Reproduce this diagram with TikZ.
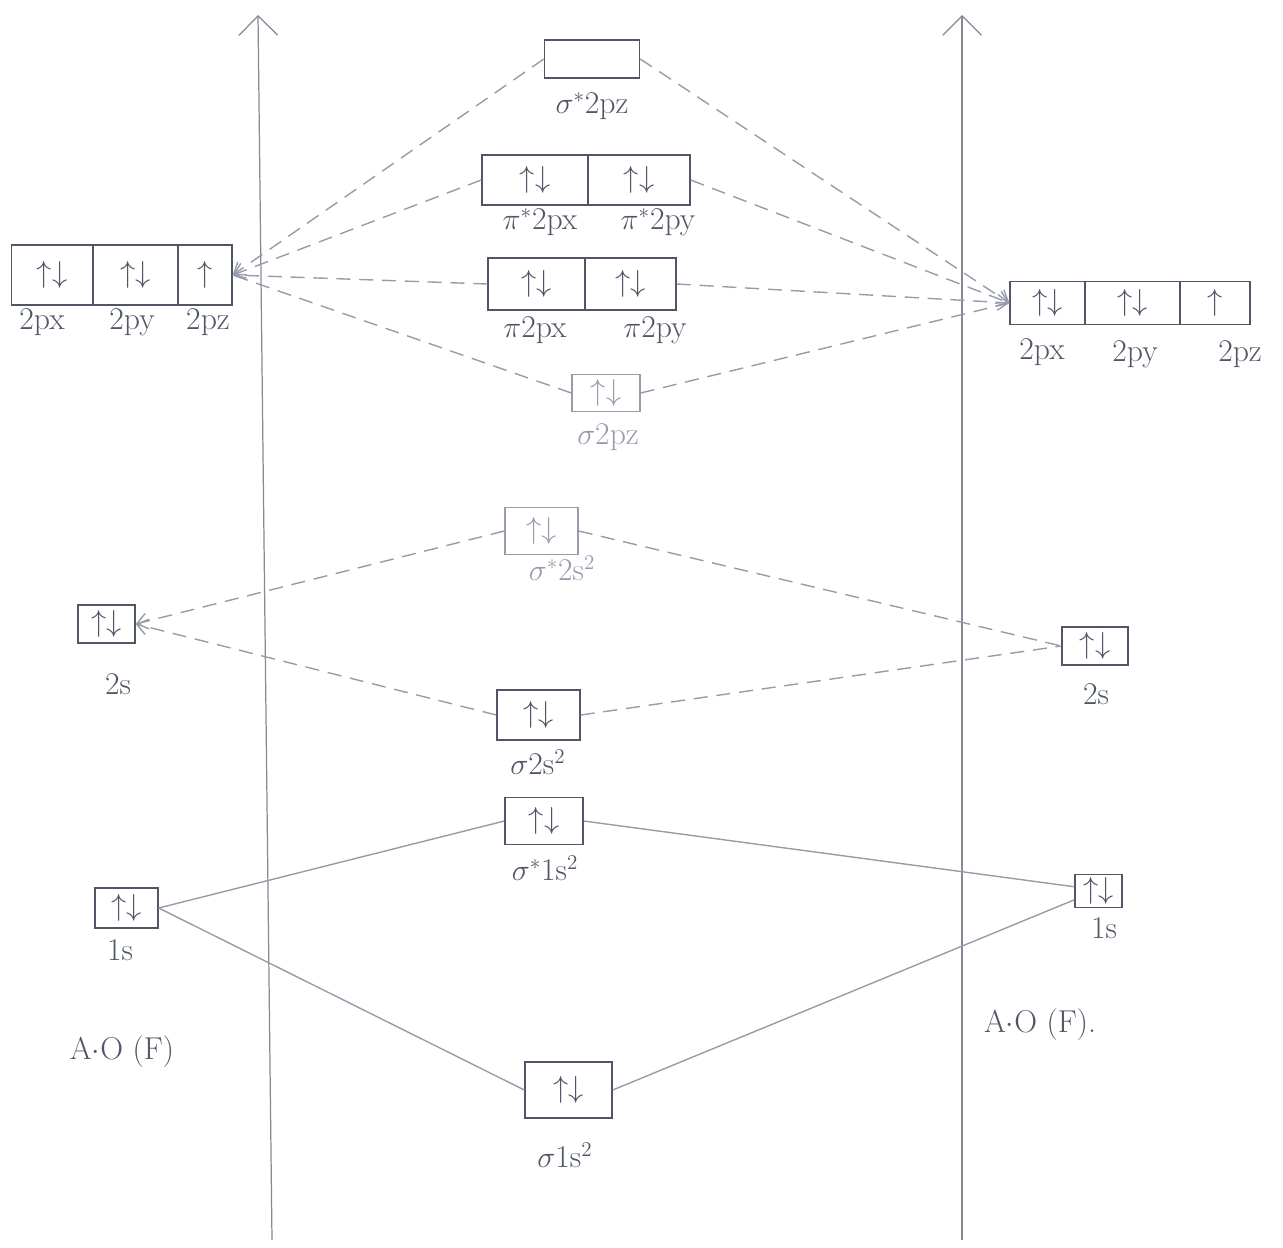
\documentclass[tikz,border=0pt]{standalone}
\usetikzlibrary{arrows.meta}
\definecolor{pencil}{RGB}{80,86,102}
\definecolor{faint}{RGB}{150,156,170}
\begin{document}
\begin{tikzpicture}[x=0.02cm,y=-0.02cm,
  cell/.style 2 args={draw=pencil, line width=0.8pt, minimum width=#1*0.02cm, minimum height=#2*0.02cm, inner sep=0pt, text=pencil, font=\LARGE},
  lab/.style={text=pencil, font=\fontsize{18}{21}\selectfont},
  link/.style={draw=faint, line width=0.8pt, dash pattern=on 8pt off 5pt},
  bond/.style={draw=faint, line width=0.8pt},
  >={Straight Barb[length=6pt,width=9pt]}]
\useasboundingbox (0,0) rectangle (1283,1247);
% energy axes
\coordinate (lbot) at (272,1240);
\coordinate (ltop) at (258,15);
\coordinate (rbot) at (962,1240);
\coordinate (rtop) at (962,15);
\draw[pencil!70, line width=0.7pt, -{Straight Barb[length=11pt,width=22pt]}] (lbot) -- (ltop);
\draw[pencil!70, line width=0.7pt, -{Straight Barb[length=11pt,width=22pt]}] (rbot) -- (rtop);
% atomic orbitals, left F
\node[cell={81}{60}] (lpx) at (52,275) {$\uparrow\downarrow$};
\node[cell={85}{60}] (lpy) at (135.5,275) {$\uparrow\downarrow$};
\node[cell={54}{60}] (lpz) at (205,275) {$\uparrow$};
\node[lab] (lpxl) at (42,322) {2px};
\node[lab] (lpyl) at (132,322) {2py};
\node[lab] (lpzl) at (208,322) {2pz};
\node[cell={57}{38}] (l2s) at (106.5,624) {$\uparrow\downarrow$};
\node[lab] (l2sl) at (118,684) {2s};
\node[cell={63}{40}] (l1s) at (126.5,908) {$\uparrow\downarrow$};
\node[lab] (l1sl) at (120,950) {1s};
\node[lab] (lao) at (122,1052) {A$\cdot$O (F)};
% atomic orbitals, right F
\node[cell={75}{43}] (rpx) at (1047.5,303) {$\uparrow\downarrow$};
\node[cell={95}{43}] (rpy) at (1132.5,303) {$\uparrow\downarrow$};
\node[cell={70}{43}] (rpz) at (1215,303) {$\uparrow$};
\node[lab] (rpxl) at (1042,352) {2px};
\node[lab] (rpyl) at (1135,354) {2py};
\node[lab] (rpzl) at (1240,354) {2pz};
\node[cell={66}{38}] (r2s) at (1095,646) {$\uparrow\downarrow$};
\node[lab] (r2sl) at (1096,694) {2s};
\node[cell={47}{33}] (r1s) at (1098.5,891) {$\uparrow\downarrow$};
\node[lab] (r1sl) at (1104,928) {1s};
\node[lab] (rao) at (1040,1025) {A$\cdot$O (F).};
% molecular orbitals
\node[cell={95}{38}] (sigs2pz) at (592,59) {};
\node[lab] (sigs2pzl) at (592,106) {$\sigma^{*}$2pz};
\node[cell={106}{50}] (pisx) at (535,180) {$\uparrow\downarrow$};
\node[cell={102}{50}] (pisy) at (639,180) {$\uparrow\downarrow$};
\node[lab] (pisxl) at (540,222) {$\pi^{*}$2px};
\node[lab] (pisyl) at (658,222) {$\pi^{*}$2py};
\node[cell={97}{52}] (pix) at (536.5,284) {$\uparrow\downarrow$};
\node[cell={91}{52}] (piy) at (630.5,284) {$\uparrow\downarrow$};
\node[lab] (pixl) at (535,330) {$\pi$2px};
\node[lab] (piyl) at (655,330) {$\pi$2py};
\node[cell={68}{37}, draw=faint, text=faint] (sig2pz) at (606,393) {$\uparrow\downarrow$};
\node[lab, text=faint] (sig2pzl) at (608,437) {$\sigma$2pz};
\node[cell={73}{47}, draw=faint, text=faint] (sigs2s) at (541.5,531) {$\uparrow\downarrow$};
\node[lab, text=faint] (sigs2sl) at (562,568) {$\sigma^{*}$2s$^2$};
\node[cell={83}{50}] (sig2s) at (538.5,715) {$\uparrow\downarrow$};
\node[lab] (sig2sl) at (538,762) {$\sigma$2s$^2$};
\node[cell={78}{47}] (sigs1s) at (544,821) {$\uparrow\downarrow$};
\node[lab] (sigs1sl) at (545,868) {$\sigma^{*}$1s$^2$};
\node[cell={87}{56}] (sig1s) at (568.5,1090) {$\uparrow\downarrow$};
\node[lab] (sig1sl) at (565,1155) {$\sigma$1s$^2$};
% 2p combinations
\draw[link,->] (sigs2pz.west) -- (lpz.east);
\draw[link,->] (sigs2pz.east) -- (rpx.west);
\draw[link,->] (pisx.west) -- (lpz.east);
\draw[link,->] (pisy.east) -- (rpx.west);
\draw[link] (pix.west) -- (lpz.east);
\draw[link,->] (piy.east) -- (rpx.west);
\draw[link] (sig2pz.west) -- (lpz.east);
\draw[link] (sig2pz.east) -- (rpx.west);
% 2s combinations
\draw[link,->] (sigs2s.west) -- (l2s.east);
\draw[link] (sigs2s.east) -- (r2s.west);
\draw[link,->] (sig2s.west) -- (l2s.east);
\draw[link] (sig2s.east) -- (r2s.west);
% 1s combinations
\draw[bond] (sigs1s.west) -- (l1s.east);
\draw[bond] (sigs1s.east) -- (r1s.170);
\draw[bond] (sig1s.west) -- (l1s.east);
\draw[bond] (sig1s.east) -- (r1s.200);
\end{tikzpicture}
\end{document}
